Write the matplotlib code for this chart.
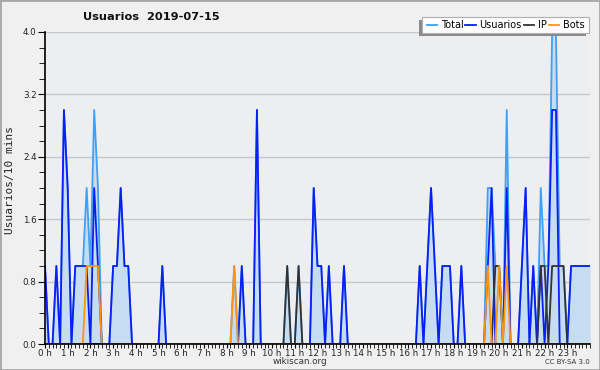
import matplotlib
matplotlib.use("Agg")
import matplotlib.pyplot as plt
from matplotlib.patches import Rectangle
from matplotlib.ticker import MultipleLocator

# valores cada 10 minutos (0h .. 24h), una fila por hora
total = [
    1, 0, 0, 1, 0, 3,  2, 0, 1, 1, 1, 2,  1, 3, 2, 0, 0, 0,  1, 1, 2, 1, 1, 0,
    0, 0, 0, 0, 0, 0,  0, 1, 0, 0, 0, 0,  0, 0, 0, 0, 0, 0,  0, 0, 0, 0, 0, 0,
    0, 0, 1, 0, 1, 0,  0, 0, 3, 0, 0, 0,  0, 0, 0, 0, 1, 0,  0, 1, 0, 0, 0, 2,
    1, 1, 0, 1, 0, 0,  0, 1, 0, 0, 0, 0,  0, 0, 0, 0, 0, 0,  0, 0, 0, 0, 0, 0,
    0, 0, 0, 1, 0, 1,  2, 1, 0, 1, 1, 1,  0, 0, 1, 0, 0, 0,  0, 0, 0, 2, 2, 1,
    1, 0, 3, 0, 0, 0,  1, 2, 0, 1, 0, 2,  1, 1, 4, 4, 1, 1,  0, 1, 1, 1, 1, 1,
    1,
]
usuarios = [
    1, 0, 0, 1, 0, 3,  2, 0, 1, 1, 1, 1,  0, 2, 1, 0, 0, 0,  1, 1, 2, 1, 1, 0,
    0, 0, 0, 0, 0, 0,  0, 1, 0, 0, 0, 0,  0, 0, 0, 0, 0, 0,  0, 0, 0, 0, 0, 0,
    0, 0, 0, 0, 1, 0,  0, 0, 3, 0, 0, 0,  0, 0, 0, 0, 0, 0,  0, 0, 0, 0, 0, 2,
    1, 1, 0, 1, 0, 0,  0, 1, 0, 0, 0, 0,  0, 0, 0, 0, 0, 0,  0, 0, 0, 0, 0, 0,
    0, 0, 0, 1, 0, 1,  2, 1, 0, 1, 1, 1,  0, 0, 1, 0, 0, 0,  0, 0, 0, 1, 2, 0,
    0, 0, 2, 0, 0, 0,  1, 2, 0, 1, 0, 1,  0, 1, 3, 3, 0, 0,  0, 1, 1, 1, 1, 1,
    1,
]
ip = [
    0, 0, 0, 0, 0, 0,  0, 0, 0, 0, 0, 0,  0, 0, 0, 0, 0, 0,  0, 0, 0, 0, 0, 0,
    0, 0, 0, 0, 0, 0,  0, 0, 0, 0, 0, 0,  0, 0, 0, 0, 0, 0,  0, 0, 0, 0, 0, 0,
    0, 0, 0, 0, 0, 0,  0, 0, 0, 0, 0, 0,  0, 0, 0, 0, 1, 0,  0, 1, 0, 0, 0, 0,
    0, 0, 0, 0, 0, 0,  0, 0, 0, 0, 0, 0,  0, 0, 0, 0, 0, 0,  0, 0, 0, 0, 0, 0,
    0, 0, 0, 0, 0, 0,  0, 0, 0, 0, 0, 0,  0, 0, 0, 0, 0, 0,  0, 0, 0, 0, 0, 1,
    1, 0, 0, 0, 0, 0,  0, 0, 0, 0, 0, 1,  1, 0, 1, 1, 1, 1,  0, 0, 0, 0, 0, 0,
    0,
]
bots = [
    0, 0, 0, 0, 0, 0,  0, 0, 0, 0, 0, 1,  1, 1, 1, 0, 0, 0,  0, 0, 0, 0, 0, 0,
    0, 0, 0, 0, 0, 0,  0, 0, 0, 0, 0, 0,  0, 0, 0, 0, 0, 0,  0, 0, 0, 0, 0, 0,
    0, 0, 1, 0, 0, 0,  0, 0, 0, 0, 0, 0,  0, 0, 0, 0, 0, 0,  0, 0, 0, 0, 0, 0,
    0, 0, 0, 0, 0, 0,  0, 0, 0, 0, 0, 0,  0, 0, 0, 0, 0, 0,  0, 0, 0, 0, 0, 0,
    0, 0, 0, 0, 0, 0,  0, 0, 0, 0, 0, 0,  0, 0, 0, 0, 0, 0,  0, 0, 0, 1, 0, 0,
    1, 0, 1, 0, 0, 0,  0, 0, 0, 0, 0, 0,  0, 0, 0, 0, 0, 0,  0, 0, 0, 0, 0, 0,
    0,
]
hour_labels = ["%d h" % h for h in range(24)]

x = list(range(len(total)))

fig = plt.figure(figsize=(6, 3.7), dpi=100, facecolor="#f0f0f0")
fig.patches.append(Rectangle((0, 0), 1, 1, transform=fig.transFigure,
                             fill=False, edgecolor="#a8a8a8", linewidth=2))
ax = fig.add_axes([45 / 600, 26 / 370, 545 / 600, 312 / 370])
ax.set_facecolor("#edeef0")

ax.fill_between(x, total, 0, color="#c6dcf0", linewidth=0, zorder=1)
ax.plot(x, total, color="#3fa0f5", lw=1.3, label="Total", zorder=2)
ax.plot(x, usuarios, color="#0a1ef5", lw=1.3, label="Usuarios", zorder=3)
ax.plot(x, ip, color="#333333", lw=1.3, label="IP", zorder=4)
ax.plot(x, bots, color="#ff9410", lw=1.3, label="Bots", zorder=5)

ax.set_xlim(0, len(total) - 1)
ax.set_ylim(0, 4.0)
ax.set_xticks(range(0, 144, 6))
ax.set_xticklabels(hour_labels)
ax.xaxis.set_minor_locator(MultipleLocator(1))
ax.yaxis.set_major_locator(MultipleLocator(0.8))
ax.yaxis.set_minor_locator(MultipleLocator(0.2))
ax.yaxis.set_major_formatter(matplotlib.ticker.FormatStrFormatter("%.1f"))
ax.grid(axis="y", color="#c8c8c8", lw=1)
ax.set_axisbelow(True)
for s in ("top", "right"):
    ax.spines[s].set_visible(False)
for s in ("left", "bottom"):
    ax.spines[s].set_color("black")
    ax.spines[s].set_linewidth(1.2)
    ax.spines[s].set_zorder(10)
ax.tick_params(axis="both", which="both", direction="out", color="black",
               labelsize=6.3, labelcolor="#222222")
ax.tick_params(axis="x", which="major", length=3, pad=0.5)
ax.tick_params(axis="x", which="minor", length=3)
ax.tick_params(axis="y", which="major", length=5, pad=1)
ax.tick_params(axis="y", which="minor", length=4)

fig.text(151 / 600, 1 - 17 / 370, "Usuarios  2019-07-15", ha="center",
         va="center", fontsize=8.2, fontweight="bold", color="#111111")
fig.text(10 / 600, 1 - 180 / 370, "Usuarios/10 mins", rotation=90,
         ha="center", va="center", fontsize=8, family="DejaVu Sans Mono",
         color="#222222")
fig.text(300 / 600, 1 - 362 / 370, "wikiscan.org", ha="center", va="center",
         fontsize=6.3, color="#333333")
fig.text(590 / 600, 1 - 362 / 370, "CC BY-SA 3.0", ha="right", va="center",
         fontsize=5, color="#333333")

# leyenda con sombra
lx0, ly0, lx1, ly1 = 422, 17, 589, 33
fig.patches.append(Rectangle(((lx0 - 3) / 600, 1 - (ly1 + 3) / 370),
                             (lx1 - lx0) / 600, (ly1 - ly0) / 370,
                             transform=fig.transFigure, facecolor="#8a8a8a",
                             edgecolor="none", zorder=20))
fig.patches.append(Rectangle((lx0 / 600, 1 - ly1 / 370),
                             (lx1 - lx0) / 600, (ly1 - ly0) / 370,
                             transform=fig.transFigure, facecolor="white",
                             edgecolor="#b0b0b0", lw=0.8, zorder=21))
leg = fig.legend(loc="center", ncol=4,
                 bbox_to_anchor=((lx0 + lx1) / 2 / 600, 1 - (ly0 + ly1) / 2 / 370),
                 frameon=False, fontsize=7, handlelength=1.1,
                 handletextpad=0.35, columnspacing=0.2, borderpad=0)
leg.set_zorder(22)

fig.savefig("out.png", dpi=100, facecolor=fig.get_facecolor())
